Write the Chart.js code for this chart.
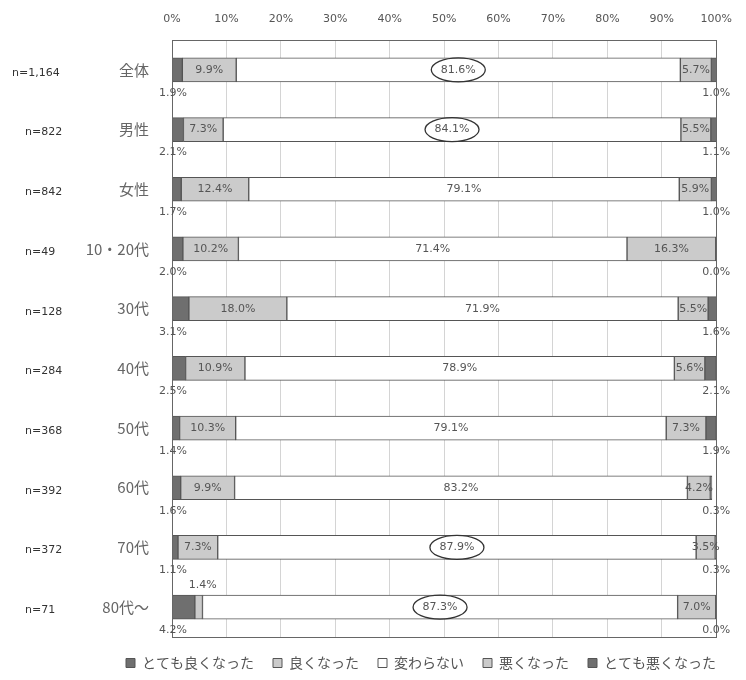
<!DOCTYPE html>
<html><head><meta charset="utf-8">
<script src="https://cdn.jsdelivr.net/npm/chart.js@4/dist/chart.umd.min.js"></script>
<style>html,body{margin:0;padding:0;background:#fff}#wrap{width:746px;height:680px;position:relative}</style>
</head><body><div id="wrap"><canvas id="c" width="746" height="680"></canvas></div>
<script>
const categories = ['全体','男性','女性','10・20代','30代','40代','50代','60代','70代','80代～'];
const sampleSizes = ['n=1,164','n=822','n=842','n=49','n=128','n=284','n=368','n=392','n=372','n=71'];
const seriesNames = ['とても良くなった','良くなった','変わらない','悪くなった','とても悪くなった'];
const veryGood = [1.9,2.1,1.7,2.0,3.1,2.5,1.4,1.6,1.1,4.2];
const good     = [9.9,7.3,12.4,10.2,18.0,10.9,10.3,9.9,7.3,1.4];
const same     = [81.6,84.1,79.1,71.4,71.9,78.9,79.1,83.2,87.9,87.3];
const bad      = [5.7,5.5,5.9,16.3,5.5,5.6,7.3,4.2,3.5,7.0];
const veryBad  = [1.0,1.1,1.0,0.0,1.6,2.1,1.9,0.3,0.3,0.0];
const circledRows = ['全体','男性','70代','80代～'];

const fills = ['#6f6f6f','#cbcbcb','#ffffff','#cbcbcb','#6f6f6f'];
const seriesData = [veryGood, good, same, bad, veryBad];

const labelPlugin = {
  id:'labels',
  afterDatasetsDraw(chart){
    const ctx = chart.ctx, ca = chart.chartArea, ys = chart.scales.y;
    ctx.save();
    // frame
    ctx.strokeStyle = '#666'; ctx.lineWidth = 1;
    ctx.strokeRect(Math.round(ca.left)+0.5, Math.round(ca.top)+0.5, Math.round(ca.right-ca.left), Math.round(ca.bottom-ca.top));
    ctx.font = '11px "DejaVu Sans"';
    ctx.fillStyle = '#555';
    ctx.textBaseline = 'middle';
    chart.data.datasets.forEach((ds, di) => {
      const meta = chart.getDatasetMeta(di);
      meta.data.forEach((bar, i) => {
        const v = ds.data[i];
        const txt = v.toFixed(1) + '%';
        const left = Math.min(bar.x, bar.base), right = Math.max(bar.x, bar.base);
        const top = bar.y - bar.height/2, bottom = bar.y + bar.height/2;
        ctx.textAlign = 'center';
        if (di === 0) {
          ctx.fillText(txt, ca.left + 1, bottom + 11);
        } else if (di === 4) {
          ctx.fillText(txt, ca.right, bottom + 11);
        } else if (v < 3) {
          ctx.fillText(txt, (left+right)/2 + 4, top - 10);
        } else {
          const cx = (left+right)/2;
          ctx.fillText(txt, cx, bar.y);
          if (di === 2 && circledRows.includes(categories[i])) {
            ctx.beginPath();
            ctx.ellipse(cx, bar.y, 27, 12, 0, 0, Math.PI*2);
            ctx.strokeStyle = '#333'; ctx.lineWidth = 1.3;
            ctx.stroke();
          }
        }
      });
    });
    // sample sizes
    ctx.font = '11px "DejaVu Sans"';
    ctx.fillStyle = '#333';
    ctx.textAlign = 'left';
    sampleSizes.forEach((s, i) => {
      const y = ys.getPixelForValue(i);
      ctx.fillText(s, i === 0 ? 12 : 25, y + 3);
    });
    ctx.restore();
  }
};

new Chart(document.getElementById('c'), {
  type:'bar',
  data:{
    labels: categories,
    datasets: seriesNames.map((n, k) => ({
      label: n, data: seriesData[k], backgroundColor: fills[k],
      borderColor: '#555', borderWidth: 1, barThickness: 24, borderSkipped: false
    }))
  },
  options:{
    indexAxis:'y', responsive:false, animation:false,
    layout:{padding:{left:0,right:11,top:0,bottom:0}},
    plugins:{
      legend:{position:'bottom', align:'end', labels:{font:{family:'"Noto Sans CJK JP"', size:14}, color:'#555', boxWidth:9, boxHeight:9, padding:19}},
      tooltip:{enabled:false}
    },
    scales:{
      x:{position:'top', stacked:true, min:0, max:100,
         ticks:{stepSize:10, callback:v=>v+'%', font:{family:'"DejaVu Sans"', size:11}, color:'#555', padding:14},
         grid:{color:'#d4d4d4', drawTicks:false},
         border:{display:true, color:'#666'},
         afterFit(s){ s.height = 40; }},
      y:{stacked:true,
         ticks:{font:{family:'"Noto Sans CJK JP"', size:15}, color:'#666', padding:15},
         grid:{display:false},
         border:{display:true, color:'#666'},
         afterFit(s){ s.width = 172; }},
      yRight:{type:'category', labels:categories, position:'right',
         ticks:{display:false}, grid:{display:false}, border:{display:false},
         afterFit(s){ s.width = 13; }}
    }
  },
  plugins:[labelPlugin]
});
</script></body></html>
